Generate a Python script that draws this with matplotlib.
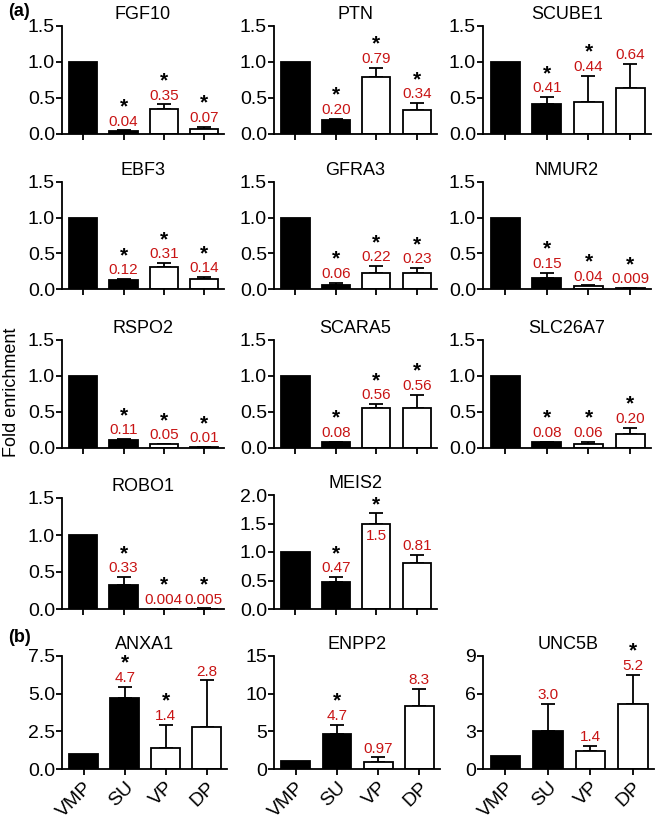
import matplotlib
matplotlib.use("Agg")
import matplotlib.pyplot as plt
import numpy as np

plt.rcParams['font.family'] = ['Liberation Sans', 'DejaVu Sans']

groups = ['VMP', 'SU', 'VP', 'DP']
genes = ['FGF10', 'PTN', 'SCUBE1', 'EBF3', 'GFRA3', 'NMUR2', 'RSPO2',
         'SCARA5', 'SLC26A7', 'ROBO1', 'MEIS2', 'ANXA1', 'ENPP2', 'UNC5B']

# mean fold enrichment (VMP, SU, VP, DP)
means = [
    [1, 0.04, 0.35, 0.07],
    [1, 0.20, 0.79, 0.34],
    [1, 0.41, 0.44, 0.64],
    [1, 0.12, 0.31, 0.14],
    [1, 0.06, 0.22, 0.23],
    [1, 0.15, 0.04, 0.009],
    [1, 0.11, 0.05, 0.01],
    [1, 0.08, 0.56, 0.56],
    [1, 0.08, 0.06, 0.20],
    [1, 0.33, 0.004, 0.005],
    [1, 0.47, 1.5, 0.81],
    [1, 4.7, 1.4, 2.8],
    [1, 4.7, 0.97, 8.3],
    [1, 3.0, 1.4, 5.2],
]
# upper error (VMP has none)
errs = [
    [0, 0.01, 0.06, 0.03],
    [0, 0.01, 0.13, 0.09],
    [0, 0.10, 0.37, 0.33],
    [0, 0.02, 0.055, 0.025],
    [0, 0.03, 0.10, 0.06],
    [0, 0.08, 0.01, 0.002],
    [0, 0.015, 0.005, 0.003],
    [0, 0.01, 0.05, 0.18],
    [0, 0.01, 0.03, 0.08],
    [0, 0.10, 0.002, 0.002],
    [0, 0.09, 0.19, 0.14],
    [0, 0.76, 1.55, 3.08],
    [0, 1.2, 0.57, 2.3],
    [0, 2.15, 0.45, 2.3],
]
labels = [
    ['', '0.04', '0.35', '0.07'],
    ['', '0.20', '0.79', '0.34'],
    ['', '0.41', '0.44', '0.64'],
    ['', '0.12', '0.31', '0.14'],
    ['', '0.06', '0.22', '0.23'],
    ['', '0.15', '0.04', '0.009'],
    ['', '0.11', '0.05', '0.01'],
    ['', '0.08', '0.56', '0.56'],
    ['', '0.08', '0.06', '0.20'],
    ['', '0.33', '0.004', '0.005'],
    ['', '0.47', '1.5', '0.81'],
    ['', '4.7', '1.4', '2.8'],
    ['', '4.7', '0.97', '8.3'],
    ['', '3.0', '1.4', '5.2'],
]
stars = [
    [0, 1, 1, 1], [0, 1, 1, 1], [0, 1, 1, 0],
    [0, 1, 1, 1], [0, 1, 1, 1], [0, 1, 1, 1],
    [0, 1, 1, 1], [0, 1, 1, 1], [0, 1, 1, 1],
    [0, 1, 1, 1], [0, 1, 1, 0],
    [0, 1, 1, 0], [0, 1, 0, 0], [0, 0, 0, 1],
]
inside_label = [('MEIS2', 2)]
ylims = [1.5] * 10 + [2.0, 7.5, 15, 9]
yticks = [[0, 0.5, 1.0, 1.5]] * 10 + [[0, 0.5, 1.0, 1.5, 2.0],
                                     [0, 2.5, 5.0, 7.5], [0, 5, 10, 15], [0, 3, 6, 9]]
yfmt = ['%.1f'] * 12 + ['%d', '%d']

fills = ['black', 'black', 'white', 'white']
red = '#c81414'

W, H = 660, 823
fig = plt.figure(figsize=(W / 100, H / 100), dpi=100)

col_left = [62, 274, 483]
col_w = [162, 163, 168]
rows = [(26, 134), (182, 289), (340, 448), (498, 609), (656, 769)]


def px_axes(left, top, width, bottom):
    return fig.add_axes([left / W, 1 - bottom / H, width / W, (bottom - top) / H])


x = np.arange(4)
for i, g in enumerate(genes):
    if i < 11:
        r, c = divmod(i, 3)
    else:
        r, c = 4, i - 11
    top, bot = rows[r]
    if g == 'MEIS2':
        top = 495
    ax = px_axes(col_left[c], top, col_w[c] + (3 if r == 4 else 0), bot)

    m = means[i]
    e = errs[i]
    ax.bar(x, m, width=0.7, color=fills, edgecolor='black', linewidth=1.3, zorder=2)
    ax.errorbar(x[1:], m[1:], yerr=[[0, 0, 0], e[1:]], fmt='none', ecolor='black',
                elinewidth=1.3, capsize=5, capthick=1.3, zorder=1)

    for j in range(1, 4):
        ytop = m[j] + e[j]
        if (g, j) in inside_label:
            ax.annotate(labels[i][j], (x[j], m[j]), xytext=(0, -4), textcoords='offset points',
                        ha='center', va='top', color=red, fontsize=11)
            star_off = 1.5
        else:
            ax.annotate(labels[i][j], (x[j], ytop), xytext=(0, 3.5), textcoords='offset points',
                        ha='center', va='baseline', color=red, fontsize=11)
            star_off = 13
        if stars[i][j]:
            ax.annotate('*', (x[j], ytop), xytext=(0, star_off), textcoords='offset points',
                        ha='center', va='baseline', color='black', fontsize=15,
                        fontweight='bold')

    ax.set_xlim(-0.53, 3.5)
    ax.set_ylim(0, ylims[i])
    ax.set_yticks(yticks[i])
    ax.set_yticklabels([yfmt[i] % v for v in yticks[i]])
    ax.set_xticks(x)
    if r == 4:
        ax.set_xticklabels(groups, rotation=45, ha='right', rotation_mode='anchor', fontsize=14)
    else:
        ax.set_xticklabels([])
    ax.set_title(g, fontsize=13, pad=5)
    for s in ['top', 'right']:
        ax.spines[s].set_visible(False)
    for s in ['left', 'bottom']:
        ax.spines[s].set_linewidth(1.3)
    ax.tick_params(axis='both', length=4, width=1.3, labelsize=14, pad=1)
    ax.tick_params(axis='x', pad=3)

fig.text(8 / W, 1 - 12 / H, '(a)', fontsize=13, fontweight='bold', ha='left', va='center')
fig.text(8 / W, 1 - 637 / H, '(b)', fontsize=13, fontweight='bold', ha='left', va='center')
fig.text(12 / W, 1 - 392 / H, 'Fold enrichment', fontsize=13, rotation=90,
         ha='center', va='center')

fig.savefig('out.png', dpi=100)
